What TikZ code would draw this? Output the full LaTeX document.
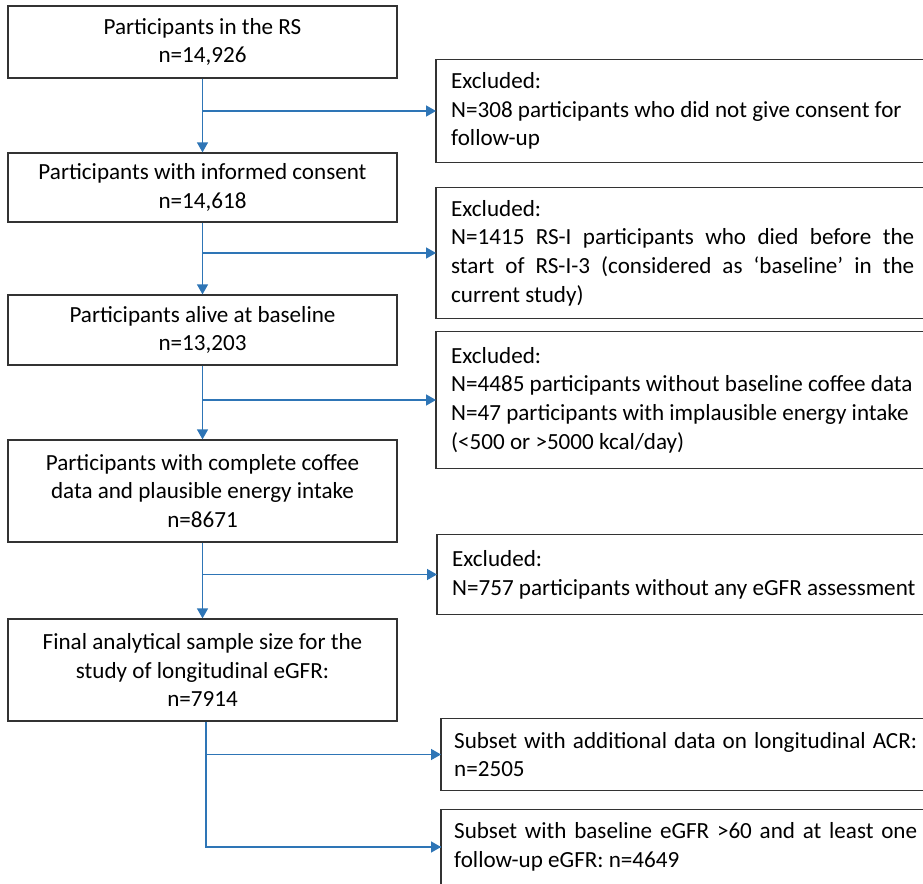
\documentclass[tikz,border=0pt]{standalone}
\usepackage{fontspec}
\setmainfont{Carlito}
\usetikzlibrary{arrows.meta,calc}
\definecolor{conn}{HTML}{2E75B6}
\definecolor{boxline}{HTML}{333333}
\newcommand{\jl}[1]{\makebox[463pt][s]{#1}}
\newcommand{\pl}[1]{\mbox{#1}}
\begin{document}
\begin{tikzpicture}[x=1pt,y=-1pt,
  every node/.style={font=\fontsize{23.1}{28.7}\selectfont},
  lbox/.style={draw=boxline, line width=1.3pt, minimum width=389pt, inner sep=0pt, align=center},
  rbox/.style={anchor=west, text width=480pt, inner xsep=15pt, inner ysep=0pt, align=justify},
  frame/.style={draw=boxline, line width=1.3pt},
  conn/.style={draw=conn, line width=1.4pt},
  arr/.style={conn, -{Triangle[length=10pt,width=11pt]}}
]
\useasboundingbox (0,0) rectangle (923,883);
\clip (0,0) rectangle (923,883);
\fill[white] (0,0) rectangle (923,883);
% main column
\node[lbox, minimum height=72pt] (b1) at (202.5,42) {Participants in the RS\\n=14,926};
\node[lbox, minimum height=69pt] (b2) at (202.5,187.5) {Participants with informed consent\\n=14,618};
\node[lbox, minimum height=70pt] (b3) at (202.5,330) {Participants alive at baseline\\n=13,203};
\node[lbox, minimum height=102pt] (b4) at (202.5,491) {Participants with complete coffee\\data and plausible energy intake\\n=8671};
\node[lbox, minimum height=102pt] (b5) at (202.5,670) {Final analytical sample size for the\\study of longitudinal eGFR:\\n=7914};
% exclusion boxes (they run past the right edge of the picture)
\node[rbox, minimum height=102pt] (e1) at (436,111) {\pl{Excluded:}\\\pl{N=308 participants who did not give consent for}\\\pl{follow-up}};
\node[rbox, minimum height=130pt] (e2) at (436,253) {\pl{Excluded:}\\\jl{N=1415 RS-I participants who died before the}\\\jl{start of RS-I-3 (considered as ‘baseline’ in the}\\\pl{current study)}};
\node[rbox, minimum height=136pt] (e3) at (436,400) {\pl{Excluded:}\\\pl{N=4485 participants without baseline coffee data}\\\pl{N=47 participants with implausible energy intake}\\\pl{(<500 or >5000 kcal/day)}};
\node[rbox, minimum height=79pt] (e4) at (437,574.5) {\pl{Excluded:}\\\pl{N=757 participants without any eGFR assessment}};
\node[rbox, inner xsep=13pt, minimum height=71pt] (s1) at (441,754.5) {\jl{Subset with additional data on longitudinal ACR:}\\\pl{n=2505}};
\node[rbox, inner xsep=13pt, minimum height=74pt] (s2) at (441,847) {\jl{Subset with baseline eGFR >60 and at least one}\\\pl{follow-up eGFR: n=4649}};
\foreach \n in {e1,e2,e3,e4,s1}
  \draw[frame] (\n.north east) -- (\n.north west) -- (\n.south west) -- (\n.south east);
\draw[frame] (s2.north east) -- (s2.north west) -- ([yshift=-20pt]s2.south west);
% connectors
\draw[arr] (b1.south) -- (b2.north);
\draw[arr] (b1.south |- e1.west) -- (e1.west);
\draw[arr] (b2.south) -- (b3.north);
\draw[arr] (b2.south |- e2.west) -- (e2.west);
\draw[arr] (b3.south) -- (b4.north);
\draw[arr] (b3.south |- e3.west) -- (e3.west);
\draw[arr] (b4.south) -- (b5.north);
\draw[arr] (b4.south |- e4.west) -- (e4.west);
\coordinate (v5) at ($(b5.south)+(3.5,0)$);
\draw[conn] (v5) |- (s2.west);
\draw[arr] (v5 |- s2.west) -- (s2.west);
\draw[arr] (v5 |- s1.west) -- (s1.west);
\end{tikzpicture}
\end{document}
